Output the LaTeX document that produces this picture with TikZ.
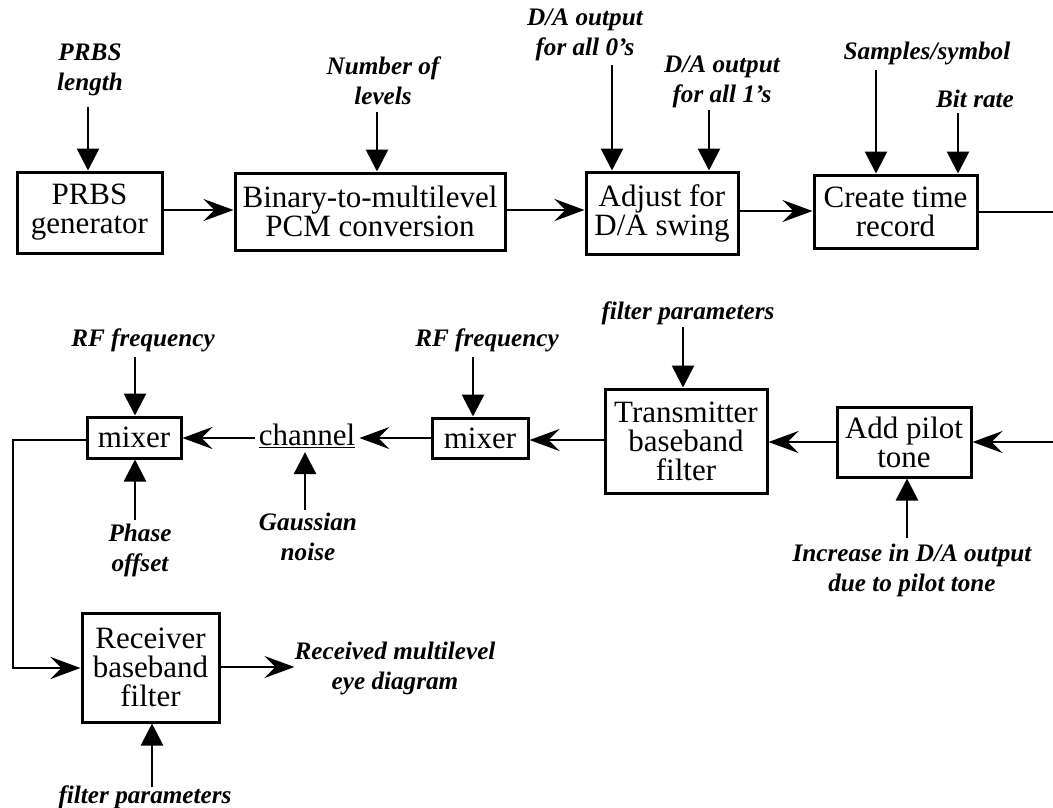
\documentclass[tikz,border=0pt]{standalone}
\usepackage{fontspec}
\setmainfont{Liberation Serif}
\usetikzlibrary{arrows.meta}
\begin{document}
\begin{tikzpicture}[x=1pt,y=-1pt,
  blk/.style={draw,line width=3pt,inner sep=0pt,align=center,font=\fontsize{31}{29}\selectfont},
  lbl/.style={inner sep=0pt,align=center,font=\fontsize{25.2}{30}\selectfont\bfseries\itshape},
  hflow/.style={line width=2.8pt,-{Stealth[length=30pt,width=22pt,inset=11pt]}},
  vin/.style={line width=2.8pt,-{Triangle[length=22pt,width=22pt]}},
  plainline/.style={line width=2.8pt}]
\useasboundingbox (0,0) rectangle (1053,807);

% ---- blocks ----
\node[blk,minimum width=145pt,minimum height=81pt] (prbs) at (89.5,212.5) {PRBS\\generator};
\node[blk,minimum width=270pt,minimum height=77pt] (bin) at (370,211.5) {Binary-to-multilevel\\PCM conversion};
\node[blk,minimum width=152pt,minimum height=82pt] (adj) at (662,213) {Adjust for\\D/A swing};
\node[blk,minimum width=163pt,minimum height=73pt] (create) at (895.5,211.5) {Create time\\record};
\node[blk,minimum width=94pt,minimum height=41pt] (mixa) at (134,437.5) {mixer};
\node[blk,minimum width=96pt,minimum height=40pt] (mixb) at (480,438) {mixer};
\node[blk,minimum width=162pt,minimum height=104pt] (tx) at (686,441) {Transmitter\\baseband\\filter};
\node[blk,minimum width=134pt,minimum height=70pt] (pilot) at (904,442) {Add pilot\\tone};
\node[blk,minimum width=137pt,minimum height=109pt] (rx) at (150.5,667.5) {Receiver\\baseband\\filter};
\node[inner sep=4pt,font=\fontsize{31}{29}\selectfont] (chan) at (307,436) {\underline{channel}};

% ---- labels ----
\node[lbl] (prbsL) at (90,70) {PRBS\\length};
\node[lbl] (numL) at (383,81) {Number of\\levels};
\node[lbl] (da0L) at (585,35) {D/A output\\for all 0's};
\node[lbl] (da1L) at (722,82) {D/A output\\for all 1's};
\node[lbl] (sampL) at (927,53) {Samples/symbol};
\node[lbl] (bitL) at (975,99) {Bit rate};
\node[lbl] (rf1L) at (143,340) {RF frequency};
\node[lbl] (rf2L) at (487,340) {RF frequency};
\node[lbl] (filtL) at (688,313) {filter parameters};
\node[lbl] (phaseL) at (140,550) {Phase\\offset};
\node[lbl] (gaussL) at (308,537) {Gaussian\\noise};
\node[lbl] (incL) at (912,570) {Increase in D/A output\\due to pilot tone};
\node[lbl] (recvL) at (395,668) {Received multilevel\\eye diagram};
\node[lbl] (filt2L) at (145,797) {filter parameters};

% ---- free ends ----
\coordinate (cPRBS) at (88,107);
\coordinate (cNUM) at (377,112);
\coordinate (cDA0) at (612,65);
\coordinate (cDA1) at (709,110);
\coordinate (cSAMP) at (876,70);
\coordinate (cBIT) at (958,113);
\coordinate (cRF1) at (135,357);
\coordinate (cRF2) at (473,357);
\coordinate (cFILT) at (683,327);
\coordinate (cPHASE) at (135,520);
\coordinate (cGAUSS) at (305,510);
\coordinate (cINC) at (907,538);
\coordinate (cFILT2) at (152,787);
\coordinate (edgeTop) at (1053,212);
\coordinate (edgeMid) at (1053,442);
\coordinate (loopTop) at (13,440);
\coordinate (loopBot) at (13,668);

% ---- input arrows ----
\draw[vin] (cPRBS) -- (cPRBS |- prbs.north);
\draw[vin] (cNUM) -- (cNUM |- bin.north);
\draw[vin] (cDA0) -- (cDA0 |- adj.north);
\draw[vin] (cDA1) -- (cDA1 |- adj.north);
\draw[vin] (cSAMP) -- (cSAMP |- create.north);
\draw[vin] (cBIT) -- (cBIT |- create.north);
\draw[vin] (cRF1) -- (cRF1 |- mixa.north);
\draw[vin] (cRF2) -- (cRF2 |- mixb.north);
\draw[vin] (cFILT) -- (cFILT |- tx.north);
\draw[vin] (cPHASE) -- (cPHASE |- mixa.south);
\draw[vin] (cGAUSS) -- (cGAUSS |- chan.south);
\draw[vin] (cINC) -- (cINC |- pilot.south);
\draw[vin] (cFILT2) -- (cFILT2 |- rx.south);

% ---- signal flow ----
\draw[hflow] (prbs.east |- 0,210) -- (bin.west |- 0,210);
\draw[hflow] (bin.east |- 0,210) -- (adj.west |- 0,210);
\draw[hflow] (adj.east |- 0,211) -- (create.west |- 0,211);
\draw[plainline] (create.east |- edgeTop) -- (edgeTop);
\draw[hflow] (edgeMid) -- (pilot.east |- edgeMid);
\draw[hflow] (pilot.west |- 0,442) -- (tx.east |- 0,442);
\draw[hflow] (tx.west |- 0,440) -- (mixb.east |- 0,440);
\draw[hflow] (mixb.west |- 0,438) -- (chan.east |- 0,438);
\draw[hflow] (chan.west |- 0,438) -- (mixa.east |- 0,438);
\draw[hflow] (mixa.west |- loopTop) -- (loopTop) -- (loopBot) -- (rx.west |- loopBot);
\draw[hflow] (rx.east |- 0,667) -- (recvL.west |- 0,667);
\end{tikzpicture}
\end{document}
